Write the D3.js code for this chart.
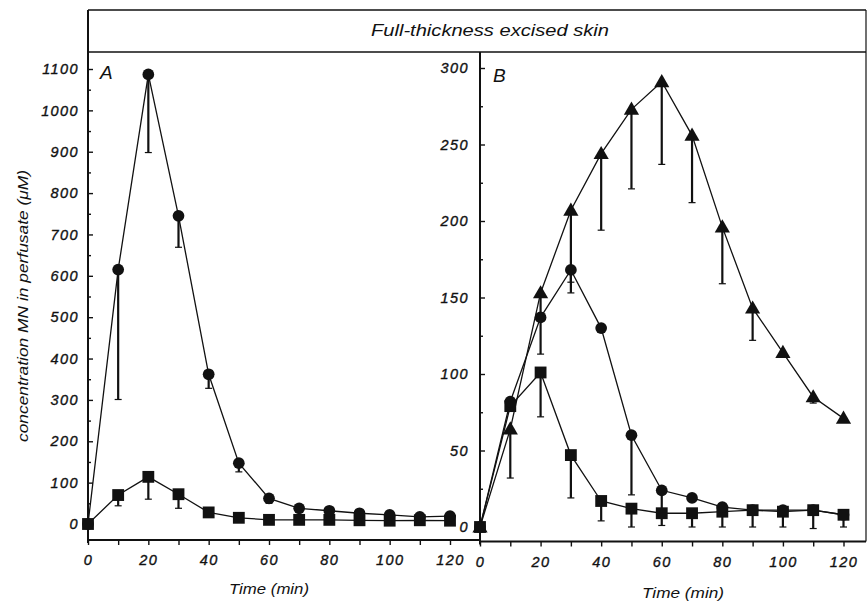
<!DOCTYPE html>
<html>
<head>
<meta charset="utf-8">
<script src="https://cdn.jsdelivr.net/npm/d3@7"></script>
<style>
  html, body { margin: 0; padding: 0; background: #fff; }
  svg text { font-family: "Liberation Sans", Arial, Helvetica, sans-serif; font-style: italic; fill: #111; }
</style>
</head>
<body>
<svg id="chart" width="867" height="601"></svg>
<script>
// ---------- data ----------
const times = [0, 10, 20, 30, 40, 50, 60, 70, 80, 90, 100, 110, 120];

// Panel A
const aCircle      = [0, 615, 1087, 745, 362, 147, 62, 38, 32, 26, 22, 17, 19];
const aCircleLow   = [null, 301, 898, 669, 328, 126, 50, null, null, null, null, null, null];
const aSquare      = [0, 70, 114, 72, 28, 15, 10, 10, 10, 9, 8, 9, 8];
const aSquareLow   = [null, 44, 60, 38, null, null, null, null, null, null, null, null, null];

// Panel B
const bTriangle    = [0, 64, 153, 207, 244, 273, 291, 256, 196, 143, 114, 85, 71];
const bTriangleLow = [null, 32, 113, 160, 194, 221, 237, 212, 159, 122, 111, 81, null];
const bCircle      = [0, 82, 137, 168, 130, 60, 24, 19, 13, 11, 11, 11, 8];
const bCircleLow   = [null, null, null, 153, null, 21, 9, null, null, null, null, null, null];
const bSquare      = [0, 79, 101, 47, 17, 12, 9, 9, 10, 11, 10, 11, 8];
const bSquareLow   = [null, null, 72, 19, 4, 0, 1, 0, 0, 0, 0, -1, 0];

const aYTicks = [0, 100, 200, 300, 400, 500, 600, 700, 800, 900, 1000, 1100];
const aYMinor = [50, 150, 250, 350, 450, 550, 650, 750, 850, 950, 1050];
const bYTicks = [0, 50, 100, 150, 200, 250, 300];
const bYMinor = [25, 75, 125, 175, 225, 275];
const xTicks  = [0, 10, 20, 30, 40, 50, 60, 70, 80, 90, 100, 110, 120];
const xLabels = [0, 20, 40, 60, 80, 100, 120];

const mainTitle = "Full-thickness excised skin";
const yTitle = "concentration MN in perfusate (\u03bcM)";
const xTitle = "Time (min)";

// ---------- layout ----------
const svg = d3.select("#chart");
const frame = { left: 88, top: 10, right: 866, band: 52 };
const divX = 480;

const xA = d3.scaleLinear().domain([0, 120]).range([88, 450]);
const yA = d3.scaleLinear().domain([0, 1100]).range([524, 69]);
const xB = d3.scaleLinear().domain([0, 120]).range([480, 843.5]);
const yB = d3.scaleLinear().domain([0, 300]).range([527, 68]);
const axisYA = 540, axisYB = 541.5;

const ink = "#111";

// frame
const g0 = svg.append("g").attr("stroke", ink).attr("fill", "none");
g0.append("line").attr("x1", frame.left).attr("x2", frame.right).attr("y1", frame.top).attr("y2", frame.top).attr("stroke-width", 1.6);
g0.append("line").attr("x1", frame.left).attr("x2", frame.right).attr("y1", frame.band).attr("y2", frame.band).attr("stroke-width", 1.6);
g0.append("line").attr("x1", frame.left).attr("x2", frame.left).attr("y1", frame.top).attr("y2", axisYA + 3).attr("stroke-width", 2);
g0.append("line").attr("x1", frame.right).attr("x2", frame.right).attr("y1", frame.top).attr("y2", axisYB).attr("stroke-width", 1.2);
g0.append("line").attr("x1", divX).attr("x2", divX).attr("y1", frame.band).attr("y2", axisYB + 3).attr("stroke-width", 2);
g0.append("line").attr("x1", frame.left).attr("x2", divX).attr("y1", axisYA).attr("y2", axisYA).attr("stroke-width", 1.8);
g0.append("line").attr("x1", divX).attr("x2", frame.right).attr("y1", axisYB).attr("y2", axisYB).attr("stroke-width", 1.8);

svg.append("text").attr("x", 490).attr("y", 36).attr("text-anchor", "middle")
  .attr("font-size", 17).attr("textLength", 238).attr("lengthAdjust", "spacingAndGlyphs").text(mainTitle);

function styleAxis(g) {
  g.select(".domain").remove();
  g.selectAll("line").attr("stroke", ink).attr("stroke-width", 1.4);
  g.selectAll("text").attr("font-family", null).attr("font-size", 14.5).attr("font-style", "italic")
    .attr("letter-spacing", "1.4px").attr("fill", ink)
    .attr("stroke", ink).attr("stroke-width", 0.35);
}

// Panel A axes
svg.append("g").attr("transform", `translate(${frame.left},0)`)
  .call(d3.axisLeft(yA).tickValues(aYTicks).tickSizeInner(-5).tickSizeOuter(0).tickPadding(9).tickFormat(d3.format("d")))
  .call(styleAxis);
svg.append("g").attr("transform", `translate(${frame.left},0)`)
  .call(d3.axisLeft(yA).tickValues(aYMinor).tickSizeInner(-3).tickSizeOuter(0).tickFormat(""))
  .call(styleAxis);
svg.append("g").attr("transform", `translate(0,${axisYA})`)
  .call(d3.axisBottom(xA).tickValues(xTicks).tickSizeInner(5).tickSizeOuter(0).tickPadding(10)
    .tickFormat(d => xLabels.includes(d) ? d : ""))
  .call(styleAxis);

// Panel B axes
svg.append("g").attr("transform", `translate(${divX},0)`)
  .call(d3.axisLeft(yB).tickValues(bYTicks).tickSizeInner(-5).tickSizeOuter(0).tickPadding(11).tickFormat(d3.format("d")))
  .call(styleAxis);
svg.append("g").attr("transform", `translate(${divX},0)`)
  .call(d3.axisLeft(yB).tickValues(bYMinor).tickSizeInner(-3).tickSizeOuter(0).tickFormat(""))
  .call(styleAxis);
svg.append("g").attr("transform", `translate(0,${axisYB})`)
  .call(d3.axisBottom(xB).tickValues(xTicks).tickSizeInner(5).tickSizeOuter(0).tickPadding(10)
    .tickFormat(d => xLabels.includes(d) ? d : ""))
  .call(styleAxis);

// axis titles
svg.append("text").attr("x", 269).attr("y", 594).attr("text-anchor", "middle").attr("font-size", 14)
  .attr("textLength", 80).attr("lengthAdjust", "spacingAndGlyphs").text(xTitle);
svg.append("text").attr("x", 683).attr("y", 598).attr("text-anchor", "middle").attr("font-size", 14)
  .attr("textLength", 82).attr("lengthAdjust", "spacingAndGlyphs").text(xTitle);
svg.append("text").attr("transform", "translate(28,306) rotate(-90)").attr("text-anchor", "middle")
  .attr("font-size", 14).attr("textLength", 272).attr("lengthAdjust", "spacingAndGlyphs").text(yTitle);

// panel letters
svg.append("text").attr("x", 100).attr("y", 79).attr("font-size", 19).text("A");
svg.append("text").attr("x", 493).attr("y", 82).attr("font-size", 19).text("B");

// ---------- series ----------
function drawSeries(x, y, vals, lows, shape) {
  const g = svg.append("g");
  // error bars
  const eb = times.map((t, i) => ({ t, v: vals[i], lo: lows[i] })).filter(d => d.lo !== null);
  g.selectAll(".eb").data(eb).join("line")
    .attr("x1", d => x(d.t)).attr("x2", d => x(d.t))
    .attr("y1", d => y(d.v)).attr("y2", d => y(d.lo))
    .attr("stroke", ink).attr("stroke-width", 2.2);
  g.selectAll(".cap").data(eb).join("line")
    .attr("x1", d => x(d.t) - 3.5).attr("x2", d => x(d.t) + 3.5)
    .attr("y1", d => y(d.lo)).attr("y2", d => y(d.lo))
    .attr("stroke", ink).attr("stroke-width", 1.2);
  // line
  const line = d3.line().x((d, i) => x(times[i])).y(d => y(d));
  g.append("path").datum(vals).attr("d", line).attr("fill", "none").attr("stroke", ink).attr("stroke-width", 1.3);
  // markers
  const sym = shape === "circle" ? d3.symbolCircle : shape === "square" ? d3.symbolSquare : d3.symbolTriangle;
  const size = shape === "circle" ? 108 : shape === "square" ? 140 : 100;
  g.selectAll(".m").data(vals).join("path")
    .attr("d", d3.symbol().type(sym).size(size))
    .attr("transform", (d, i) => `translate(${x(times[i])},${y(d) + (shape === "triangle" ? 1 : 0)})`)
    .attr("fill", ink);
}

drawSeries(xA, yA, aSquare, aSquareLow, "square");
drawSeries(xA, yA, aCircle, aCircleLow, "circle");
drawSeries(xB, yB, bTriangle, bTriangleLow, "triangle");
drawSeries(xB, yB, bSquare, bSquareLow, "square");
drawSeries(xB, yB, bCircle, bCircleLow, "circle");
</script>
</body>
</html>
